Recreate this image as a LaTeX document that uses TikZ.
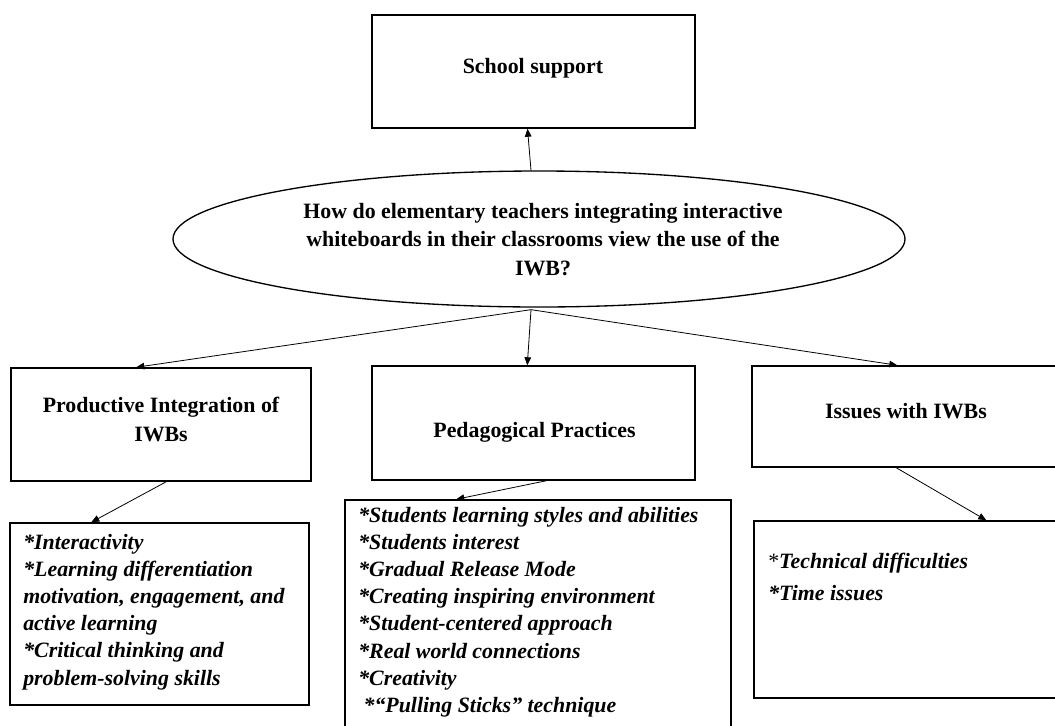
\documentclass[tikz,border=0pt]{standalone}
\usepackage{fontspec}
\setmainfont{Liberation Serif}
\usetikzlibrary{arrows.meta,calc,shapes.geometric}
\tikzset{
  box/.style={draw, line width=1.1pt, rectangle, inner sep=0pt},
  oval/.style={draw, line width=1.0pt, ellipse, inner sep=0pt},
  conn/.style={line width=0.6pt, -{Triangle[length=6pt,width=5pt]}},
  head/.style={inner sep=0pt, anchor=base, font=\fontsize{16.4}{21.5}\selectfont\bfseries},
  item/.style={inner sep=0pt, anchor=base west, font=\fontsize{16.4}{20.4}\selectfont\bfseries\itshape},
}
\newcommand{\blk}[3]{{\fontsize{16.4}{#1}\selectfont\begin{tabular}[t]{@{}#2@{}}#3\end{tabular}}}
\newcommand{\st}{*}

\begin{document}
\begin{tikzpicture}[x=0.75pt,y=-0.75pt]
\useasboundingbox (0,0) rectangle (1055,725);

% boxes
\node[box, minimum width=242.25pt, minimum height=84.75pt] (school) at (533.5,71.5) {};
\node[oval, minimum width=549pt, minimum height=102pt] (ell) at (539,239) {};
\node[box, minimum width=225pt, minimum height=84.75pt] (pig) at (161,424.5) {};
\node[box, minimum width=242.25pt, minimum height=85.5pt] (ped) at (533.5,423) {};
\node[box, minimum width=231pt, minimum height=75.75pt] (iss) at (906,416.5) {};
\node[box, minimum width=224.25pt, minimum height=136.5pt] (bl) at (159.5,614) {};
\node[box, minimum width=289.5pt, minimum height=180pt] (bm) at (538,620) {};
\node[box, minimum width=228pt, minimum height=132.75pt] (br) at (906,609.5) {};

% texts
\node[head] (tschool) at (533,73) {School support};
\node[head] (tell) at (543,218) {\blk{21.4}{c}{How do elementary teachers integrating interactive\\whiteboards in their classrooms view the use of the\\IWB?}};
\node[head] (tpig) at (161,412) {\blk{21.75}{c}{Productive Integration of\\IWBs}};
\node[head] (tped) at (534.5,437) {Pedagogical Practices};
\node[head] (tiss) at (906,418) {Issues with IWBs};
\node[item] (tbl) at (23,549) {\blk{20.4}{l}{\st Interactivity\\\st Learning differentiation\\motivation, engagement, and\\active learning\\\st Critical thinking and\\problem-solving skills}};
\node[item] (tbm) at (358,522) {\blk{20.4}{l}{\st Students learning styles and abilities\\\st Students interest\\\st Gradual Release Mode\\\st Creating inspiring environment\\\st Student-centered approach\\\st Real world connections\\\st Creativity\\\hspace{4pt}\st“Pulling Sticks” technique}};
\node[item] (tbr) at (768,568) {\blk{24}{l}{{\upshape\mdseries\st}Technical difficulties\\\st Time issues}};

% connectors
\draw[conn] ($(ell.north)+(-8,0)$) -- ($(school.south)+(-6,0)$);
\draw[conn] ($(ell.south)+(-8,2)$) -- ($(pig.north west)+(126,0)$);
\draw[conn] ($(ell.south)+(-8,2)$) -- ($(ped.north west)+(156,0)$);
\draw[conn] ($(ell.south)+(-8,2)$) -- ($(iss.north west)+(146,0)$);
\draw[conn] ($(pig.south west)+(156,0)$) -- ($(bl.north west)+(82,0)$);
\draw[conn] ($(ped.south west)+(175,0)$) -- ($(bm.north west)+(112,0)$);
\draw[conn] ($(iss.south west)+(145,0)$) -- ($(br.north west)+(233,0)$);
\end{tikzpicture}
\end{document}
